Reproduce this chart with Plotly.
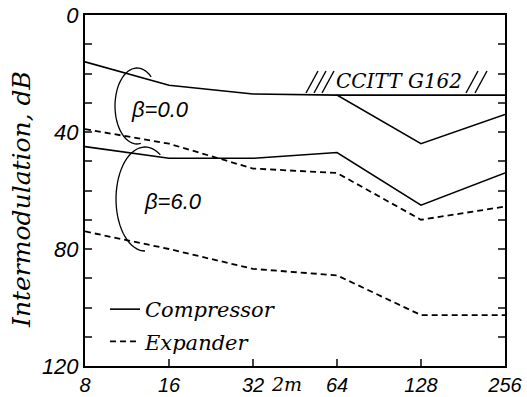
import numpy as np
import plotly.graph_objects as go

# ---- data ----
x_vals = [8, 16, 32, 64, 128, 256]
comp_b0 = [16, 24, 27, 27.4, 44, 34]
exp_b0 = [39, 44, 52.5, 54, 70, 65.5]
comp_b6 = [45, 49, 49, 47, 65, 54]
exp_b6 = [74, 80, 86.8, 89, 102.6, 102.6]
ccitt_x = [64, 256]
ccitt_y = [27.4, 27.4]
x_ticks = [8, 16, 32, 64, 128, 256]
y_ticks = list(range(0, 121, 10))
y_ticktext = [str(v) if v % 40 == 0 else "" for v in y_ticks]

# ---- layout geometry (pixels) ----
W, H = 527, 397
L, R, T, B = 85, 22, 15, 31
PW, PH = W - L - R, H - T - B


def px(xp, yp):
    return (xp - L) / PW, (H - B - yp) / PH


fig = go.Figure()
line_c = dict(color="black", width=1.6)
line_e = dict(color="black", width=1.8, dash="6px,4px")
fig.add_trace(go.Scatter(x=x_vals, y=comp_b0, mode="lines", line=line_c, name="Compressor",
                         legendgroup="c", showlegend=True))
fig.add_trace(go.Scatter(x=x_vals, y=exp_b0, mode="lines", line=line_e, name="Expander",
                         legendgroup="e", showlegend=True))
fig.add_trace(go.Scatter(x=x_vals, y=comp_b6, mode="lines", line=line_c, name="Compressor",
                         legendgroup="c", showlegend=False))
fig.add_trace(go.Scatter(x=x_vals, y=exp_b6, mode="lines", line=line_e, name="Expander",
                         legendgroup="e", showlegend=False))
fig.add_trace(go.Scatter(x=ccitt_x, y=ccitt_y, mode="lines", line=line_c, name="CCITT G162",
                         showlegend=False))

shapes = []


def arc_path(cx, cy, rx, ry, t0, t1, n=40):
    ts = np.radians(np.linspace(t0, t1, n))
    pts = [px(cx + rx * np.cos(t), cy + ry * np.sin(t)) for t in ts]
    return "M" + " L".join(f"{a:.4f},{b:.4f}" for a, b in pts)


for cx, cy, rx, ry, t0, t1 in [(137, 106, 22, 38, -50, -280), (145, 199, 29, 52, -58, -270)]:
    shapes.append(dict(type="path", xref="paper", yref="paper", path=arc_path(cx, cy, rx, ry, t0, t1),
                       line=dict(color="black", width=1.3)))

# hatch marks around CCITT label
for x0 in [306, 314, 322, 466, 475]:
    a = px(x0, 93)
    b = px(x0 + 12, 71)
    shapes.append(dict(type="line", xref="paper", yref="paper", x0=a[0], y0=a[1], x1=b[0], y1=b[1],
                       line=dict(color="black", width=1.4)))

serif = "DejaVu Serif"
sans = "Liberation Sans"
annots = []
for txt, (xp, yp), fam, size, ang in [
    ("β=0.0", (160, 110), sans, 22, 0),
    ("β=6.0", (173, 202), sans, 22, 0),
    ("CCITT G162", (399, 81), serif, 20, 0),
    ("2m", (286, 384), serif, 19, 0),
    ("Intermodulation, dB", (21, 200), serif, 25, -90),
]:
    ax, ay = px(xp, yp)
    annots.append(dict(x=ax, y=ay, xref="paper", yref="paper", text=txt, showarrow=False,
                       xanchor="center", yanchor="middle", textangle=ang,
                       font=dict(family=fam, size=size, color="black", style="italic")))

fig.update_layout(
    width=W, height=H, margin=dict(l=L, r=R, t=T, b=B, autoexpand=False),
    paper_bgcolor="white", plot_bgcolor="white",
    shapes=shapes, annotations=annots,
    showlegend=True,
    legend=dict(x=px(105, 0)[0], y=px(0, 289)[1], xanchor="left", yanchor="top",
                bgcolor="rgba(0,0,0,0)", borderwidth=0,
                font=dict(family=serif, size=21, color="black", style="italic"),
                tracegroupgap=2),
    xaxis=dict(type="log", range=[np.log10(8), np.log10(256)], tickvals=x_ticks,
               ticktext=[str(v) for v in x_ticks], ticks="inside", ticklen=7, tickwidth=1.5,
               showline=True, linecolor="black", linewidth=2, mirror=True, automargin=False,
               showgrid=False, zeroline=False, ticklabelstandoff=0,
               tickfont=dict(family=sans, size=20, color="black", style="italic")),
    yaxis=dict(range=[120, 0], tickvals=y_ticks, ticktext=y_ticktext, ticks="inside",
               ticklen=7, tickwidth=1.5, showline=True, linecolor="black", linewidth=2,
               mirror="ticks", showgrid=False, zeroline=False, automargin=False,
               tickfont=dict(family=sans, size=22, color="black", style="italic")),
)

fig.write_html("out.html")
